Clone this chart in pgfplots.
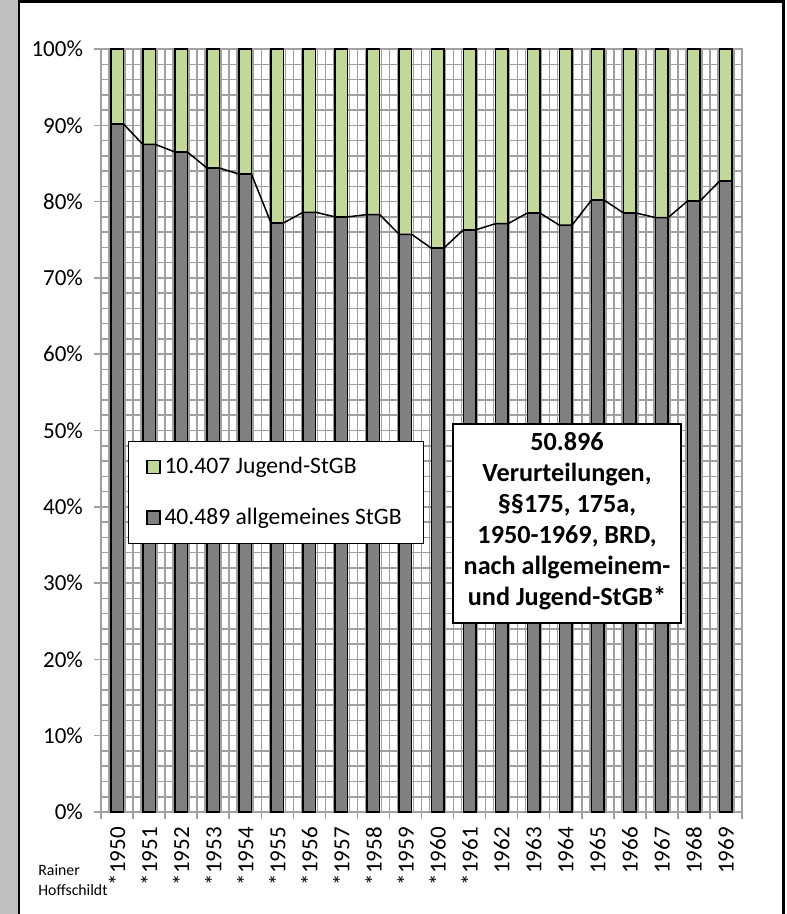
\documentclass[border=0pt]{standalone}
\usepackage{pgfplots}
\pgfplotsset{compat=1.18}
\usepackage{pgfplotstable}
\usepackage{fontspec}
\setmainfont{Carlito}

\definecolor{jugend}{RGB}{195,214,155}
\definecolor{allg}{RGB}{128,128,128}
\definecolor{gridc}{RGB}{160,160,160}
\definecolor{strip}{RGB}{191,191,191}

% share of convictions (%) under general / juvenile criminal law
\pgfplotstableread{
x year g j
0 1950 90.2 9.8
1 1951 87.5 12.5
2 1952 86.5 13.5
3 1953 84.4 15.6
4 1954 83.6 16.4
5 1955 77.2 22.8
6 1956 78.6 21.4
7 1957 78.0 22.0
8 1958 78.3 21.7
9 1959 75.7 24.3
10 1960 73.9 26.1
11 1961 76.3 23.7
12 1962 77.1 22.9
13 1963 78.5 21.5
14 1964 76.9 23.1
15 1965 80.2 19.8
16 1966 78.5 21.5
17 1967 77.9 22.1
18 1968 80.1 19.9
19 1969 82.7 17.3
}\anteile

\newcommand{\tickfont}{\fontsize{11.5}{13}\selectfont}

\begin{document}
\begin{tikzpicture}
\begin{scope}[x=0.5pt,y=-0.5pt]
\path[use as bounding box] (0,0) rectangle (786,914);
\fill[white] (0,0) rectangle (786,914);
\fill[strip] (0,0) rectangle (17.5,914);
\draw[line width=1.3pt] (18.8,930) -- (18.8,1.3) -- (783.5,1.3) -- (783.5,930);
\end{scope}

\begin{axis}[
  at={(50.5pt,-406pt)}, anchor=south west,
  scale only axis, width=320.5pt, height=381.5pt,
  ybar stacked, bar width=0.39,
  xmin=-0.5, xmax=19.5, ymin=0, ymax=100,
  xtick={-0.5,0.5,1.5,2.5,3.5,4.5,5.5,6.5,7.5,8.5,9.5,10.5,11.5,12.5,13.5,14.5,15.5,16.5,17.5,18.5,19.5},
  xticklabels={},
  minor x tick num=3,
  extra x ticks={0,1,...,19},
  extra x tick labels={*1950,*1951,*1952,*1953,*1954,*1955,*1956,*1957,*1958,*1959,*1960,*1961,1962,1963,1964,1965,1966,1967,1968,1969},
  extra x tick style={major tick length=0pt, grid=none},
  xticklabel style={rotate=90, anchor=east, font=\tickfont},
  xticklabel shift=4pt,
  ytick={0,10,...,100},
  yticklabels={0\%,10\%,20\%,30\%,40\%,50\%,60\%,70\%,80\%,90\%,100\%},
  yticklabel style={font=\tickfont, xshift=-2pt},
  minor y tick num=4,
  grid=both,
  major grid style={gridc, line width=0.75pt},
  minor grid style={gridc, line width=0.75pt},
  axis line style={gridc, line width=0.75pt},
  tick style={gridc, line width=0.75pt},
  tick pos=left, tick align=outside,
  major tick length=3.5pt, minor tick length=0pt,
  reverse legend,
  legend cell align=left,
  legend style={at={(0.042,0.486)}, anchor=north west, draw=black,
    inner xsep=9pt, inner ysep=6pt, row sep=11.5pt,
    font=\fontsize{11.8}{13}\selectfont,
    /tikz/every even column/.append style={column sep=4pt}},
  legend image code/.code={\draw[#1, line width=0.6pt] (0pt,-3.3pt) rectangle (6.5pt,3.3pt);},
]
\addplot[fill=allg, draw=black, line width=0.75pt] table[x=x, y=g] {\anteile};
\addlegendentry{40.489 allgemeines StGB}
\addplot[fill=jugend, draw=black, line width=0.75pt] table[x=x, y=j] {\anteile};
\addlegendentry{10.407 Jugend-StGB}
\end{axis}

% series lines joining the tops of the grey bars
\begin{axis}[
  at={(50.5pt,-406pt)}, anchor=south west,
  scale only axis, width=320.5pt, height=381.5pt,
  xmin=-0.5, xmax=19.5, ymin=0, ymax=100, hide axis,
]
\addplot[black, line width=0.75pt, no marks] coordinates {
(-0.195,90.2) (0.195,90.2) (0.805,87.5) (1.195,87.5) (1.805,86.5) (2.195,86.5)
(2.805,84.4) (3.195,84.4) (3.805,83.6) (4.195,83.6) (4.805,77.2) (5.195,77.2)
(5.805,78.6) (6.195,78.6) (6.805,78.0) (7.195,78.0) (7.805,78.3) (8.195,78.3)
(8.805,75.7) (9.195,75.7) (9.805,73.9) (10.195,73.9) (10.805,76.3) (11.195,76.3)
(11.805,77.1) (12.195,77.1) (12.805,78.5) (13.195,78.5) (13.805,76.9) (14.195,76.9)
(14.805,80.2) (15.195,80.2) (15.805,78.5) (16.195,78.5) (16.805,77.9) (17.195,77.9)
(17.805,80.1) (18.195,80.1) (18.805,82.7) (19.195,82.7)
};
\end{axis}

\begin{scope}[x=0.5pt,y=-0.5pt]
\draw[fill=white, line width=0.9pt] (453,424) rectangle (681,623);
\node[align=center, font=\fontsize{13.1}{15.5}\selectfont\bfseries, anchor=center] at (567,521)
  {50.896\\Verurteilungen,\\§§175, 175a,\\1950-1969, BRD,\\nach allgemeinem-\\und Jugend-StGB*};
\node[align=left, anchor=west, font=\fontsize{7.9}{10}\selectfont, inner sep=0pt] at (38,880)
  {Rainer\\Hoffschildt};
\end{scope}
\end{tikzpicture}
\end{document}
